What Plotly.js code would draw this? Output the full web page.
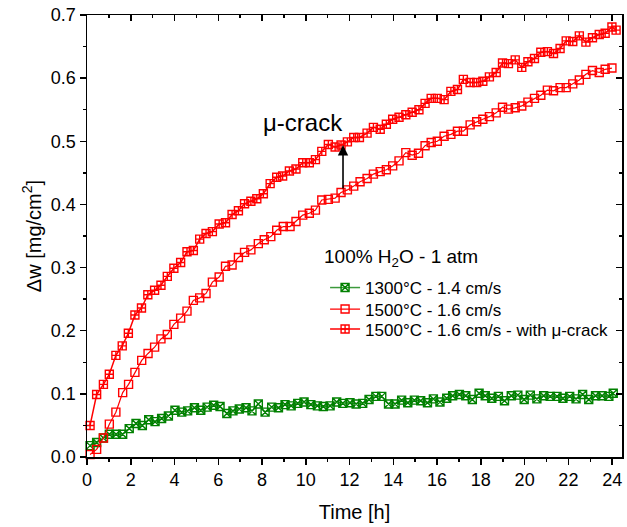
<!DOCTYPE html>
<html>
<head>
<meta charset="utf-8">
<script src="https://cdn.plot.ly/plotly-3.0.1.min.js"></script>
<style>html,body{margin:0;padding:0;background:#fff;}#chart{width:627px;height:527px;}</style>
</head>
<body>
<div id="chart"></div>
<script>
// ---- data ----
const tGreen = [0.14,0.44,0.75,1.02,1.33,1.63,1.93,2.24,2.53,2.82,
  3.11,3.41,3.72,4.02,4.33,4.60,4.91,5.20,5.49,5.79,
  6.08,6.39,6.67,6.96,7.27,7.54,7.83,8.14,8.44,8.75,
  9.05,9.33,9.63,9.92,10.23,10.53,10.80,11.11,11.41,11.69,
  12.02,12.30,12.60,12.89,13.20,13.47,13.78,14.08,14.38,14.66,
  14.96,15.25,15.56,15.83,16.13,16.44,16.71,17.02,17.31,17.61,
  17.92,18.20,18.50,18.80,19.08,19.39,19.69,19.98,20.26,20.56,
  20.87,21.17,21.48,21.75,22.06,22.35,22.65,22.93,23.24,23.54,
  23.85,24.05];
const wGreen = [0.018,0.023,0.030,0.036,0.036,0.036,0.045,0.053,0.050,0.059,
  0.056,0.061,0.065,0.074,0.071,0.073,0.078,0.074,0.079,0.082,
  0.080,0.069,0.073,0.076,0.078,0.073,0.084,0.071,0.079,0.078,
  0.083,0.081,0.085,0.087,0.083,0.081,0.080,0.081,0.087,0.085,
  0.086,0.084,0.085,0.091,0.096,0.096,0.084,0.084,0.090,0.086,
  0.090,0.089,0.086,0.092,0.087,0.093,0.097,0.099,0.097,0.091,
  0.101,0.097,0.093,0.096,0.089,0.097,0.098,0.091,0.098,0.092,
  0.097,0.096,0.096,0.093,0.096,0.092,0.099,0.091,0.097,0.097,
  0.096,0.101];

const tRed = [0.14,0.44,0.75,1.02,1.32,1.63,1.90,2.19,2.50,2.79,
  3.09,3.38,3.67,3.97,4.28,4.57,4.86,5.15,5.44,5.73,
  6.04,6.33,6.63,6.92,7.20,7.49,7.83,8.10,8.40,8.67,
  8.97,9.28,9.55,9.86,10.16,10.44,10.73,11.03,11.34,11.61,
  11.90,12.19,12.48,12.80,13.09,13.40,13.68,13.97,14.26,14.57,
  14.86,15.15,15.45,15.73,16.01,16.32,16.63,16.93,17.20,17.51,
  17.81,18.09,18.39,18.70,18.99,19.26,19.57,19.87,20.15,20.45,
  20.74,21.04,21.32,21.62,21.90,22.20,22.50,22.80,23.10,23.41,
  23.68,23.99];
const wRed = [0.004,0.012,0.030,0.052,0.071,0.102,0.115,0.134,0.153,0.164,
  0.174,0.187,0.194,0.210,0.220,0.231,0.248,0.252,0.259,0.277,
  0.285,0.302,0.304,0.316,0.324,0.328,0.338,0.344,0.349,0.359,
  0.365,0.365,0.373,0.383,0.386,0.391,0.407,0.408,0.410,0.419,
  0.423,0.429,0.436,0.441,0.448,0.452,0.455,0.461,0.469,0.482,
  0.478,0.481,0.493,0.498,0.500,0.508,0.511,0.516,0.516,0.526,
  0.531,0.535,0.539,0.545,0.554,0.551,0.553,0.556,0.562,0.568,
  0.573,0.581,0.580,0.585,0.585,0.591,0.597,0.606,0.612,0.609,
  0.614,0.616];

const tCrack = [0.14,0.44,0.75,1.02,1.32,1.61,1.89,2.19,2.49,2.78,
  3.09,3.38,3.67,3.97,4.28,4.57,4.86,5.15,5.44,5.73,
  6.04,6.33,6.63,6.92,7.20,7.49,7.76,8.06,8.37,8.67,
  8.94,9.25,9.55,9.86,10.16,10.44,10.73,11.03,11.34,11.61,
  11.90,12.19,12.45,12.80,13.09,13.40,13.68,13.97,14.26,14.57,
  14.86,15.17,15.45,15.73,16.01,16.32,16.63,16.93,17.20,17.51,
  17.81,18.09,18.39,18.70,18.99,19.26,19.57,19.87,20.15,20.45,
  20.74,21.04,21.32,21.62,21.90,22.20,22.50,22.80,23.10,23.41,
  23.68,23.99,24.18];
const wCrack = [0.050,0.099,0.115,0.131,0.161,0.176,0.196,0.225,0.236,0.257,
  0.264,0.272,0.286,0.299,0.308,0.325,0.327,0.345,0.354,0.357,
  0.369,0.371,0.384,0.390,0.401,0.405,0.409,0.417,0.433,0.443,
  0.445,0.453,0.456,0.466,0.466,0.471,0.484,0.495,0.491,0.494,
  0.499,0.506,0.506,0.513,0.522,0.519,0.527,0.535,0.538,0.542,
  0.546,0.550,0.560,0.568,0.568,0.566,0.579,0.582,0.598,0.593,
  0.593,0.595,0.602,0.609,0.624,0.623,0.629,0.617,0.626,0.631,
  0.641,0.642,0.639,0.647,0.659,0.658,0.667,0.657,0.664,0.669,
  0.671,0.681,0.676];

const seriesNames = ["1300°C - 1.4 cm/s", "1500°C - 1.6 cm/s", "1500°C - 1.6 cm/s - with μ-crack"];
const legendTitle = "100% H<sub>2</sub>O - 1 atm";
const crackLabel = "μ-crack";
const crackArrowT = 11.7, crackArrowFrom = 0.423, crackArrowTo = 0.494;
const xTitle = "Time [h]";
const yTitle = "Δw [mg/cm<sup>2</sup>]";

const FONT = "Liberation Sans, Arial, sans-serif";

const traces = [
  {x: tGreen, y: wGreen, name: seriesNames[0], type: "scatter", mode: "lines+markers",
   legend: "legend",
   line: {color: "#3c9a3c", width: 1.5},
   marker: {symbol: "square-x-open", size: 8, color: "#008000", line: {width: 1.4, color: "#008000"}},
   cliponaxis: false},
  {x: tRed, y: wRed, name: seriesNames[1], type: "scatter", mode: "lines+markers",
   legend: "legend2",
   line: {color: "#ff0000", width: 1.2},
   marker: {symbol: "square-open", size: 8, color: "#ff0000", line: {width: 1.4, color: "#ff0000"}},
   cliponaxis: false},
  {x: tCrack, y: wCrack, name: seriesNames[2], type: "scatter", mode: "lines+markers",
   legend: "legend3",
   line: {color: "#ff0000", width: 1.5},
   marker: {symbol: "square-cross-open", size: 8, color: "#ff0000", line: {width: 1.4, color: "#ff0000"}},
   cliponaxis: false},
  // invisible trace on top/right axes so they are drawn
  {x: [0], y: [0], xaxis: "x2", yaxis: "y2", type: "scatter", mode: "markers",
   marker: {opacity: 0}, showlegend: false, hoverinfo: "skip"}
];

const XR = [0, 24.45], YR = [0, 0.7];

function legendAt(yTopPx) {
  return {
    x: 0.445, y: (457 - yTopPx) / 442, xanchor: "left", yanchor: "top",
    bgcolor: "rgba(0,0,0,0)", borderwidth: 0,
    font: {family: FONT, size: 17, color: "#000"},
    itemwidth: 30
  };
}

const layout = {
  width: 627, height: 527,
  margin: {l: 87, r: 5, t: 15, b: 70},
  paper_bgcolor: "#ffffff", plot_bgcolor: "#ffffff",
  font: {family: FONT, size: 18, color: "#000"},
  showlegend: true,
  legend: legendAt(270),
  legend2: legendAt(291.5),
  legend3: legendAt(311.5),
  xaxis: {
    range: XR, showgrid: false, zeroline: false,
    showline: true, linecolor: "#000", linewidth: 1.5,
    ticks: "outside", ticklen: 6, tickwidth: 1.5, tickcolor: "#000",
    tick0: 0, dtick: 2,
    minor: {ticks: "outside", ticklen: 3, tickwidth: 1.5, dtick: 1, tickcolor: "#000"},
    tickfont: {family: FONT, size: 18, color: "#000"},
    title: {text: xTitle, font: {family: FONT, size: 20, color: "#000"}, standoff: 16}
  },
  yaxis: {
    range: YR, showgrid: false, zeroline: false,
    showline: true, linecolor: "#000", linewidth: 1.5,
    ticks: "outside", ticklen: 6, tickwidth: 1.5, tickcolor: "#000",
    tick0: 0, dtick: 0.1, tickformat: ".1f",
    minor: {ticks: "outside", ticklen: 3, tickwidth: 1.5, dtick: 0.05, tickcolor: "#000"},
    tickfont: {family: FONT, size: 18, color: "#000"},
    title: {text: yTitle, font: {family: FONT, size: 20, color: "#000"}, standoff: 4}
  },
  xaxis2: {
    overlaying: "x", side: "top", range: XR, showgrid: false, zeroline: false,
    showline: true, linecolor: "#000", linewidth: 1.5,
    ticks: "inside", ticklen: 6, tickwidth: 1.5, tickcolor: "#000",
    tick0: 0, dtick: 2, showticklabels: false,
    minor: {ticks: "inside", ticklen: 3, tickwidth: 1.5, dtick: 1, tickcolor: "#000"}
  },
  yaxis2: {
    overlaying: "y", side: "right", range: YR, showgrid: false, zeroline: false,
    showline: true, linecolor: "#000", linewidth: 1.5,
    ticks: "inside", ticklen: 6, tickwidth: 1.5, tickcolor: "#000",
    tick0: 0, dtick: 0.1, showticklabels: false,
    minor: {ticks: "inside", ticklen: 3, tickwidth: 1.5, dtick: 0.05, tickcolor: "#000"}
  },
  annotations: [
    {x: 9.87, y: 0.529, xref: "x", yref: "y", text: crackLabel, showarrow: false,
     font: {family: FONT, size: 24, color: "#000"}},
    {x: (322 - 87) / 535, y: (457 - 258) / 442, xref: "paper", yref: "paper",
     xanchor: "left", yanchor: "middle",
     text: legendTitle, showarrow: false, font: {family: FONT, size: 19, color: "#000"}},
    {x: crackArrowT, y: crackArrowTo, ax: crackArrowT, ay: crackArrowFrom,
     xref: "x", yref: "y", axref: "x", ayref: "y", text: "", showarrow: true,
     arrowhead: 2, arrowsize: 1.3, arrowwidth: 1.6, arrowcolor: "#000"}
  ]
};

Plotly.newPlot("chart", traces, layout, {staticPlot: true, displayModeBar: false});
</script>
</body>
</html>
